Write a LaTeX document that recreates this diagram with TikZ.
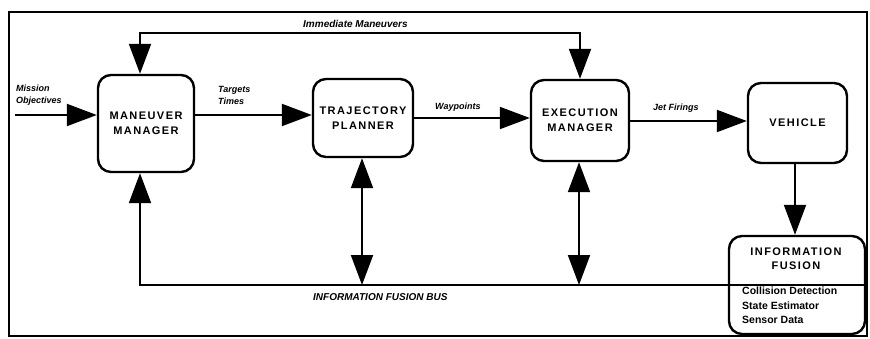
\documentclass[tikz,border=0pt]{standalone}
\usepackage{fontspec}
\setmainfont{Liberation Sans}
\newfontfamily\boxfont[LetterSpace=13]{Liberation Sans}
\usetikzlibrary{arrows.meta}
\tikzset{
  bigtip/.tip={Triangle[length=30pt,width=22pt]},
  arr/.style={-bigtip, line width=2pt},
  darr/.style={bigtip-bigtip, line width=2pt},
  block/.style={draw, line width=2.4pt, rounded corners=13pt, align=center,
    font=\boxfont\bfseries\fontsize{11}{15}\selectfont, inner sep=0pt},
  lab/.style={font=\bfseries\itshape\fontsize{9}{12}\selectfont, inner sep=0pt, align=left},
  info/.style={font=\bfseries\fontsize{10.5}{14.5}\selectfont, inner sep=0pt, align=left}
}
\begin{document}
\begin{tikzpicture}[x=1pt,y=-1pt]
  \useasboundingbox (0,0) rectangle (870,339);
  % outer frame
  \draw[line width=2pt] (9,12) rectangle (867,336);

  % blocks
  \node[block, minimum width=96pt, minimum height=97pt] (mm) at (146,123.5) {MANEUVER\\MANAGER};
  \node[block, minimum width=100pt, minimum height=78pt] (tp) at (363,118) {TRAJECTORY\\PLANNER};
  \node[block, minimum width=98pt, minimum height=81pt] (em) at (580,120.5) {EXECUTION\\MANAGER};
  \node[block, minimum width=99pt, minimum height=80pt] (veh) at (797.5,123) {VEHICLE};
  \node[block, minimum width=136pt, minimum height=98pt] (ifb) at (797,285) {};
  \draw[line width=2pt] (ifb.west) -- (ifb.east);
  \node[font=\boxfont\bfseries\fontsize{11}{14}\selectfont, align=center, inner sep=0pt] (iftitle) at (796,259) {INFORMATION\\FUSION};
  \node[info, anchor=north west] (iflist) at (742,287) {Collision Detection\\State Estimator\\Sensor Data};

  % points on the connectors
  \coordinate (mo) at (15,115);
  \coordinate (imm) at (360,33);
  \coordinate (bus) at (140,285);

  % forward chain
  \draw[arr] (mo) -- (mm.west |- mo);
  \draw[arr] (mm.east |- 0,115) -- (tp.west |- 0,115);
  \draw[arr] (tp.east |- 0,118) -- (em.west |- 0,118);
  \draw[arr] (em.east |- 0,121) -- (veh.west |- 0,121);
  \draw[arr] (veh.south -| 795,0) -- (ifb.north -| 795,0);

  % immediate maneuvers loop
  \draw[darr] (mm.north -| 140,0) |- (imm) -| (em.north);

  % information fusion bus
  \draw[arr] (ifb.west) -- (bus) -- (mm.south -| bus);
  \draw[darr] (tp.south -| 362,0) -- (362,285);
  \draw[darr] (em.south -| 579,0) -- (579,285);

  % labels
  \node[lab, anchor=west] (lmo) at (16,95) {Mission\\Objectives};
  \node[lab, anchor=west] (ltt) at (218,95) {Targets\\Times};
  \node[lab, anchor=west] (lwp) at (435,107) {Waypoints};
  \node[lab, anchor=west] (ljf) at (653,108) {Jet Firings};
  \node[lab, anchor=west, font=\bfseries\itshape\fontsize{10}{12}\selectfont] (lim) at (303,24) {Immediate Maneuvers};
  \node[lab, anchor=west, font=\bfseries\itshape\fontsize{10}{12}\selectfont] (lbus) at (313,297) {INFORMATION FUSION BUS};
\end{tikzpicture}
\end{document}
